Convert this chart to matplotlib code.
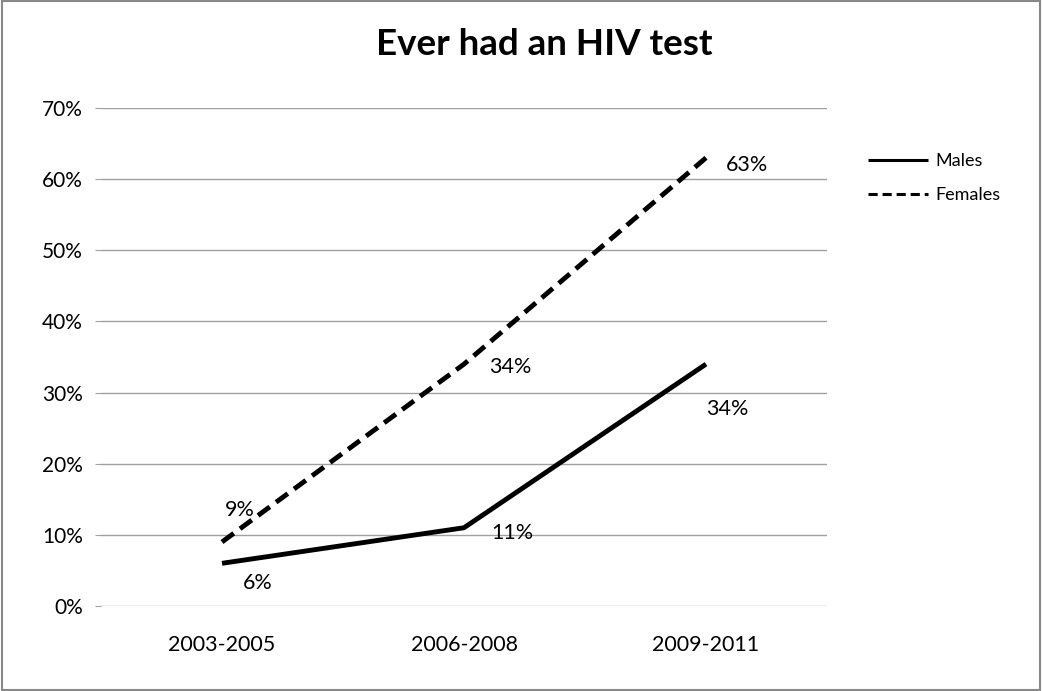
import matplotlib.pyplot as plt
from matplotlib.patches import Rectangle
from matplotlib.ticker import FuncFormatter

periods = ['2003-2005', '2006-2008', '2009-2011']
males = [6, 11, 34]
females = [9, 34, 63]

plt.rcParams['font.family'] = ['Lato', 'DejaVu Sans']

fig = plt.figure(figsize=(10.42, 6.91), dpi=100)
ax = fig.add_axes([101 / 1042, 1 - 606 / 691, 726 / 1042, 498 / 691])

x = range(len(periods))
ax.plot(x, males, color='black', lw=3.5, solid_capstyle='butt', label='Males')
ax.plot(x, females, color='black', lw=3.5, ls=(0, (3, 1.6)), dash_capstyle='butt', label='Females')

# value labels
offsets_m = [(15, -14), (20, -4), (0, -32)]
offsets_f = [(2, 23), (18, -2), (14, -5)]
for i, v in enumerate(males):
    ax.annotate(f'{v}%', (i, v), xytext=offsets_m[i], textcoords='offset points',
                fontsize=15.5, va='center', ha='left')
for i, v in enumerate(females):
    ax.annotate(f'{v}%', (i, v), xytext=offsets_f[i], textcoords='offset points',
                fontsize=15.5, va='center', ha='left')

ax.set_xlim(-0.5, 2.5)
ax.set_ylim(0, 70)
ax.set_yticks(range(0, 71, 10))
ax.yaxis.set_major_formatter(FuncFormatter(lambda v, p: f'{v:.0f}%'))
ax.set_xticks(list(x), periods)
ax.grid(axis='y', color='#a0a0a0', lw=1)
ax.set_axisbelow(True)
for s in ax.spines.values():
    s.set_visible(False)
ax.tick_params(axis='y', length=4, color='#a0a0a0', labelsize=15, pad=9)
ax.tick_params(axis='x', length=0, labelsize=15.5, pad=21)

fig.text(0.522, 0.936, 'Ever had an HIV test', ha='center', va='center',
         fontsize=26.5, fontweight='bold')

fig.legend(loc='upper left', bbox_to_anchor=(852 / 1042, 1 - 137 / 691), frameon=False,
           fontsize=13, handlelength=3.3, handletextpad=0.4, labelspacing=1.0)
for h in fig.legends[0].get_lines():
    h.set_linewidth(2.2)

fig.patches.append(Rectangle((0.002, 0.002), 0.996, 0.996, transform=fig.transFigure,
                             fill=False, edgecolor='#888888', lw=1.5))

fig.savefig('out.png', dpi=100)
